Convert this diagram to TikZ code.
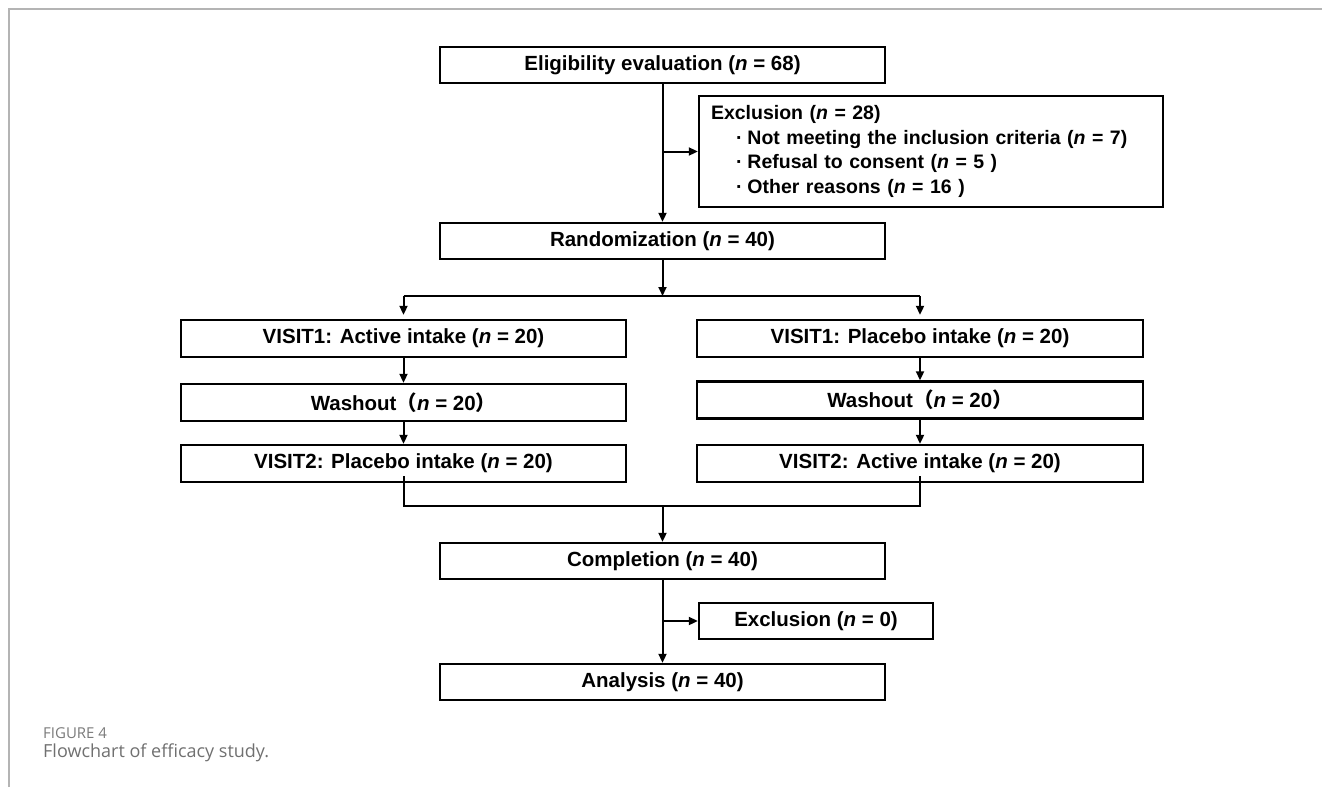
\documentclass[tikz,border=0pt]{standalone}
\usepackage{fontspec}
\setmainfont{Liberation Sans}
\newfontfamily\cjk{Noto Sans CJK JP}
\newfontfamily\capfont{Open Sans}
\usetikzlibrary{arrows.meta}
\definecolor{framegray}{HTML}{B4B4B4}
\definecolor{capgray}{HTML}{707070}
\definecolor{figgray}{HTML}{7A7A7A}
\tikzset{
  box/.style={draw=black, line width=2.4pt, fill=white, inner sep=0pt,
    font=\fontsize{20.5}{25}\selectfont\bfseries, align=center},
  conn/.style={line width=2pt, -{Triangle[length=9pt,width=8pt]}},
  plain/.style={line width=2pt},
  frameline/.style={draw=framegray, line width=1.6pt}
}
\newcommand{\nn}{\textit{n}}
\newcommand{\bul}{\hspace*{25pt}·\hspace{5pt}}
\begin{document}
\begin{tikzpicture}[x=1pt,y=-1pt]
\useasboundingbox (0,0) rectangle (1322,787);
% page frame
\draw[frameline] (9,787) -- (9,9) -- (1322,9);

% boxes
\node[box, minimum width=445pt, minimum height=36pt] (elig) at (662.5,65) {Eligibility evaluation (\nn{} = 68)};
\node[box, minimum width=464pt, minimum height=111pt, text width=440pt, align=left,
      font=\fontsize{19.5}{24.5}\selectfont\bfseries] (excl) at (931,151.5)
  {Exclusion (\nn{} = 28)\\
   \bul Not meeting the inclusion criteria (\nn{} = 7)\\
   \bul Refusal to consent (\nn{} = 5 )\\
   \bul Other reasons (\nn{} = 16 )};
\node[box, minimum width=445pt, minimum height=36pt] (rand) at (662.5,241) {Randomization (\nn{} = 40)};

\node[box, minimum width=445pt, minimum height=37pt] (v1l) at (403.5,338.5) {VISIT1: Active intake (\nn{} = 20)};
\node[box, minimum width=445pt, minimum height=37pt] (wl) at (403.5,402.5) {Washout{\cjk （}\nn{} = 20{\cjk ）}};
\node[box, minimum width=445pt, minimum height=37pt] (v2l) at (403.5,463.5) {VISIT2: Placebo intake (\nn{} = 20)};

\node[box, minimum width=446pt, minimum height=37pt] (v1r) at (920,338.5) {VISIT1: Placebo intake (\nn{} = 20)};
\node[box, minimum width=446pt, minimum height=37pt] (wr) at (920,400) {Washout{\cjk （}\nn{} = 20{\cjk ）}};
\node[box, minimum width=446pt, minimum height=37pt] (v2r) at (920,463.5) {VISIT2: Active intake (\nn{} = 20)};

\node[box, minimum width=445pt, minimum height=36pt] (comp) at (662.5,561) {Completion (\nn{} = 40)};
\node[box, minimum width=234pt, minimum height=36pt] (excl0) at (816,621) {Exclusion (\nn{} = 0)};
\node[box, minimum width=445pt, minimum height=36pt] (anal) at (662.5,682) {Analysis (\nn{} = 40)};

% helper coordinates
\coordinate (split) at (662.5,296);
\coordinate (splitL) at (403.5,296);
\coordinate (splitR) at (920,296);
\coordinate (brL) at (403.5,506);
\coordinate (brR) at (920,506);
\coordinate (join) at (662.5,506);

% connectors
\draw[conn] (elig.south) -- (rand.north);
\draw[conn] (elig.south |- excl.west) -- (excl.west);
\draw[conn] (rand.south) -- (split);
\draw[plain] (splitL) -- (splitR);
\draw[conn, shorten >=4pt] (splitL) -- (v1l.north);
\draw[conn, shorten >=4pt] (splitR) -- (v1r.north);
\draw[conn] (v1l.south) -- (wl.north);
\draw[conn] (wl.south) -- (v2l.north);
\draw[conn] (v1r.south) -- (wr.north);
\draw[conn] (wr.south) -- (v2r.north);
\draw[plain] ([yshift=7pt]v2l.south) -- (brL) -- (brR) -- ([yshift=7pt]v2r.south);
\draw[conn] (join) -- (comp.north);
\draw[conn] (comp.south) -- (anal.north);
\draw[conn] (comp.south |- excl0.west) -- (excl0.west);

% caption
\node[anchor=base west, inner sep=0pt, font=\capfont\fontsize{15}{17}\selectfont, text=figgray] (figlab) at (43,738) {FIGURE 4};
\node[anchor=base west, inner sep=0pt, font=\capfont\fontsize{18}{21}\selectfont, text=capgray] (figcap) at (43,757) {Flowchart of efficacy study.};
\end{tikzpicture}
\end{document}
